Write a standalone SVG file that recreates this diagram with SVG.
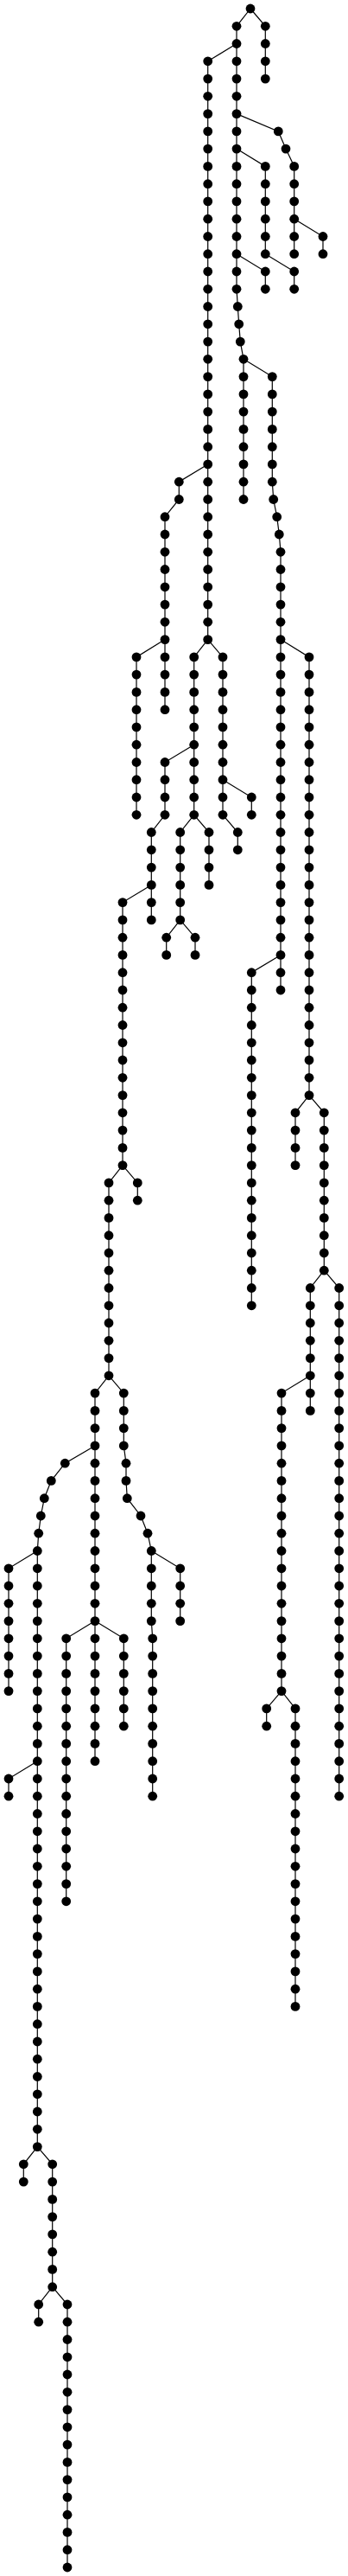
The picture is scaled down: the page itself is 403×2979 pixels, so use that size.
<svg xmlns="http://www.w3.org/2000/svg" width="403" height="2979" viewBox="0 0 403 2979">
<style>
rect.bg{fill:#fff}
circle{fill:#000}
#edges path{fill:none;stroke:#000;stroke-width:1.2}
</style>
<rect class="bg" x="0" y="0" width="403" height="2979"/>
<g id="edges">
<path d="M290,10 L274,30.3 V334.3 L275.3,354.5 L276.7,374.8 L278.3,395.1 L282,415.3 V577.5"/>
<path d="M290,10 L307.3,30.3 V91.1"/>
<path d="M274,50.5 L240.7,70.8 V739.6"/>
<path d="M274,131.6 L322.3,151.9 L331,172.1 L340.7,192.4 V293.7"/>
<path d="M340.7,253.2 L374,273.5 V293.7"/>
<path d="M274,172.1 L307.3,192.4 V293.7"/>
<path d="M307.3,293.7 L340.7,314 V334.3"/>
<path d="M274,293.7 L307.3,314 V334.3"/>
<path d="M282,415.3 L315.3,435.6 V557.2 L316.7,577.5 L320.7,597.7 L323.3,618 L325,638.3 V1145"/>
<path d="M325,739.6 L358,759.9 V1266.6"/>
<path d="M358,1266.6 L342,1286.8 V1347.6"/>
<path d="M358,1266.6 L375.3,1286.8 V1469.2"/>
<path d="M375.3,1469.2 L359.3,1489.5 V1631.4"/>
<path d="M375.3,1469.2 L392.7,1489.5 V2077.2"/>
<path d="M359.3,1590.8 L326,1611.1 V1955.6"/>
<path d="M326,1955.6 L308.7,1975.9 V1996.2"/>
<path d="M326,1955.6 L342,1975.9 V2320.4"/>
<path d="M325,1104.4 L291.3,1124.7 V1509.8"/>
<path d="M240.7,536.9 L207.3,557.2 V577.5 L191,597.7 V820.7"/>
<path d="M191,739.6 L158,759.9 V942.3"/>
<path d="M240.7,739.6 L224.7,759.9 V942.3"/>
<path d="M224.7,861.2 L191,881.5 V942.3 L175.3,962.5 V1063.9"/>
<path d="M175.3,1023.4 L142,1043.6 V1347.6"/>
<path d="M142,1347.6 L159.3,1367.9 V1388.2"/>
<path d="M142,1347.6 L126,1367.9 V1590.8"/>
<path d="M126,1590.8 L143.3,1611.1 V1671.9 L146,1692.2 V1712.4 L147.3,1732.7 L163,1753 L171,1773.2 L175.3,1793.5 V1874.6 L176.7,1894.8 V2077.2"/>
<path d="M175.3,1793.5 L208.7,1813.8 V1874.6"/>
<path d="M126,1590.8 L110,1611.1 V2036.7"/>
<path d="M110,1874.6 L76.7,1894.8 V2198.8"/>
<path d="M110,1874.6 L143.3,1894.8 V1996.2"/>
<path d="M110,1671.9 L75.3,1692.2 L59.3,1712.4 L51.3,1732.7 L47.3,1753 L44.7,1773.2 L43.3,1793.5 V2482.6"/>
<path d="M43.3,1793.5 L10,1813.8 V1955.6"/>
<path d="M43.3,2036.7 L10,2057 V2077.2"/>
<path d="M43.3,2482.6 L27.3,2502.8 V2523.1"/>
<path d="M43.3,2482.6 L60.7,2502.8 V2644.7"/>
<path d="M60.7,2644.7 L44.7,2665 V2685.2"/>
<path d="M60.7,2644.7 L78,2665 V2969"/>
<path d="M224.7,942.3 L208.7,962.5 V1063.9"/>
<path d="M208.7,1063.9 L192.7,1084.2 V1104.4"/>
<path d="M208.7,1063.9 L226,1084.2 V1104.4"/>
<path d="M224.7,942.3 L242,962.5 V1023.4"/>
<path d="M240.7,739.6 L258,759.9 V942.3"/>
<path d="M258,901.7 L291.3,922 V942.3"/>
<path d="M258,942.3 L275.3,962.5 V982.8"/>
</g>
<g id="a0"><circle cx="290" cy="10" r="5.4"/></g>
<g id="b1"><circle cx="274" cy="30.3" r="5.4"/></g>
<g id="b2"><circle cx="274" cy="50.5" r="5.4"/></g>
<g id="b3"><circle cx="274" cy="70.8" r="5.4"/></g>
<g id="b4"><circle cx="274" cy="91.1" r="5.4"/></g>
<g id="b5"><circle cx="274" cy="111.3" r="5.4"/></g>
<g id="b6"><circle cx="274" cy="131.6" r="5.4"/></g>
<g id="b7"><circle cx="274" cy="151.9" r="5.4"/></g>
<g id="b8"><circle cx="274" cy="172.1" r="5.4"/></g>
<g id="b9"><circle cx="274" cy="192.4" r="5.4"/></g>
<g id="b10"><circle cx="274" cy="212.7" r="5.4"/></g>
<g id="b11"><circle cx="274" cy="232.9" r="5.4"/></g>
<g id="b12"><circle cx="274" cy="253.2" r="5.4"/></g>
<g id="b13"><circle cx="274" cy="273.5" r="5.4"/></g>
<g id="b14"><circle cx="274" cy="293.7" r="5.4"/></g>
<g id="b15"><circle cx="274" cy="314" r="5.4"/></g>
<g id="b16"><circle cx="274" cy="334.3" r="5.4"/></g>
<g id="b17"><circle cx="275.3" cy="354.5" r="5.4"/></g>
<g id="b18"><circle cx="276.7" cy="374.8" r="5.4"/></g>
<g id="b19"><circle cx="278.3" cy="395.1" r="5.4"/></g>
<g id="b20"><circle cx="282" cy="415.3" r="5.4"/></g>
<g id="b21"><circle cx="282" cy="435.6" r="5.4"/></g>
<g id="b22"><circle cx="282" cy="455.9" r="5.4"/></g>
<g id="b23"><circle cx="282" cy="476.1" r="5.4"/></g>
<g id="b24"><circle cx="282" cy="496.4" r="5.4"/></g>
<g id="b25"><circle cx="282" cy="516.7" r="5.4"/></g>
<g id="b26"><circle cx="282" cy="536.9" r="5.4"/></g>
<g id="b27"><circle cx="282" cy="557.2" r="5.4"/></g>
<g id="b28"><circle cx="282" cy="577.5" r="5.4"/></g>
<g id="c1"><circle cx="307.3" cy="30.3" r="5.4"/></g>
<g id="c2"><circle cx="307.3" cy="50.5" r="5.4"/></g>
<g id="c3"><circle cx="307.3" cy="70.8" r="5.4"/></g>
<g id="c4"><circle cx="307.3" cy="91.1" r="5.4"/></g>
<g id="d3"><circle cx="240.7" cy="70.8" r="5.4"/></g>
<g id="d4"><circle cx="240.7" cy="91.1" r="5.4"/></g>
<g id="d5"><circle cx="240.7" cy="111.3" r="5.4"/></g>
<g id="d6"><circle cx="240.7" cy="131.6" r="5.4"/></g>
<g id="d7"><circle cx="240.7" cy="151.9" r="5.4"/></g>
<g id="d8"><circle cx="240.7" cy="172.1" r="5.4"/></g>
<g id="d9"><circle cx="240.7" cy="192.4" r="5.4"/></g>
<g id="d10"><circle cx="240.7" cy="212.7" r="5.4"/></g>
<g id="d11"><circle cx="240.7" cy="232.9" r="5.4"/></g>
<g id="d12"><circle cx="240.7" cy="253.2" r="5.4"/></g>
<g id="d13"><circle cx="240.7" cy="273.5" r="5.4"/></g>
<g id="d14"><circle cx="240.7" cy="293.7" r="5.4"/></g>
<g id="d15"><circle cx="240.7" cy="314" r="5.4"/></g>
<g id="d16"><circle cx="240.7" cy="334.3" r="5.4"/></g>
<g id="d17"><circle cx="240.7" cy="354.5" r="5.4"/></g>
<g id="d18"><circle cx="240.7" cy="374.8" r="5.4"/></g>
<g id="d19"><circle cx="240.7" cy="395.1" r="5.4"/></g>
<g id="d20"><circle cx="240.7" cy="415.3" r="5.4"/></g>
<g id="d21"><circle cx="240.7" cy="435.6" r="5.4"/></g>
<g id="d22"><circle cx="240.7" cy="455.9" r="5.4"/></g>
<g id="d23"><circle cx="240.7" cy="476.1" r="5.4"/></g>
<g id="d24"><circle cx="240.7" cy="496.4" r="5.4"/></g>
<g id="d25"><circle cx="240.7" cy="516.7" r="5.4"/></g>
<g id="d26"><circle cx="240.7" cy="536.9" r="5.4"/></g>
<g id="d27"><circle cx="240.7" cy="557.2" r="5.4"/></g>
<g id="d28"><circle cx="240.7" cy="577.5" r="5.4"/></g>
<g id="d29"><circle cx="240.7" cy="597.7" r="5.4"/></g>
<g id="d30"><circle cx="240.7" cy="618" r="5.4"/></g>
<g id="d31"><circle cx="240.7" cy="638.3" r="5.4"/></g>
<g id="d32"><circle cx="240.7" cy="658.5" r="5.4"/></g>
<g id="d33"><circle cx="240.7" cy="678.8" r="5.4"/></g>
<g id="d34"><circle cx="240.7" cy="699.1" r="5.4"/></g>
<g id="d35"><circle cx="240.7" cy="719.3" r="5.4"/></g>
<g id="d36"><circle cx="240.7" cy="739.6" r="5.4"/></g>
<g id="e7"><circle cx="322.3" cy="151.9" r="5.4"/></g>
<g id="e8"><circle cx="331" cy="172.1" r="5.4"/></g>
<g id="e9"><circle cx="340.7" cy="192.4" r="5.4"/></g>
<g id="e10"><circle cx="340.7" cy="212.7" r="5.4"/></g>
<g id="e11"><circle cx="340.7" cy="232.9" r="5.4"/></g>
<g id="e12"><circle cx="340.7" cy="253.2" r="5.4"/></g>
<g id="e13"><circle cx="340.7" cy="273.5" r="5.4"/></g>
<g id="e14"><circle cx="340.7" cy="293.7" r="5.4"/></g>
<g id="f13"><circle cx="374" cy="273.5" r="5.4"/></g>
<g id="f14"><circle cx="374" cy="293.7" r="5.4"/></g>
<g id="g9"><circle cx="307.3" cy="192.4" r="5.4"/></g>
<g id="g10"><circle cx="307.3" cy="212.7" r="5.4"/></g>
<g id="g11"><circle cx="307.3" cy="232.9" r="5.4"/></g>
<g id="g12"><circle cx="307.3" cy="253.2" r="5.4"/></g>
<g id="g13"><circle cx="307.3" cy="273.5" r="5.4"/></g>
<g id="g14"><circle cx="307.3" cy="293.7" r="5.4"/></g>
<g id="h15"><circle cx="340.7" cy="314" r="5.4"/></g>
<g id="h16"><circle cx="340.7" cy="334.3" r="5.4"/></g>
<g id="i15"><circle cx="307.3" cy="314" r="5.4"/></g>
<g id="i16"><circle cx="307.3" cy="334.3" r="5.4"/></g>
<g id="j21"><circle cx="315.3" cy="435.6" r="5.4"/></g>
<g id="j22"><circle cx="315.3" cy="455.9" r="5.4"/></g>
<g id="j23"><circle cx="315.3" cy="476.1" r="5.4"/></g>
<g id="j24"><circle cx="315.3" cy="496.4" r="5.4"/></g>
<g id="j25"><circle cx="315.3" cy="516.7" r="5.4"/></g>
<g id="j26"><circle cx="315.3" cy="536.9" r="5.4"/></g>
<g id="j27"><circle cx="315.3" cy="557.2" r="5.4"/></g>
<g id="j28"><circle cx="316.7" cy="577.5" r="5.4"/></g>
<g id="j29"><circle cx="320.7" cy="597.7" r="5.4"/></g>
<g id="j30"><circle cx="323.3" cy="618" r="5.4"/></g>
<g id="j31"><circle cx="325" cy="638.3" r="5.4"/></g>
<g id="j32"><circle cx="325" cy="658.5" r="5.4"/></g>
<g id="j33"><circle cx="325" cy="678.8" r="5.4"/></g>
<g id="j34"><circle cx="325" cy="699.1" r="5.4"/></g>
<g id="j35"><circle cx="325" cy="719.3" r="5.4"/></g>
<g id="j36"><circle cx="325" cy="739.6" r="5.4"/></g>
<g id="j37"><circle cx="325" cy="759.9" r="5.4"/></g>
<g id="j38"><circle cx="325" cy="780.1" r="5.4"/></g>
<g id="j39"><circle cx="325" cy="800.4" r="5.4"/></g>
<g id="j40"><circle cx="325" cy="820.7" r="5.4"/></g>
<g id="j41"><circle cx="325" cy="840.9" r="5.4"/></g>
<g id="j42"><circle cx="325" cy="861.2" r="5.4"/></g>
<g id="j43"><circle cx="325" cy="881.5" r="5.4"/></g>
<g id="j44"><circle cx="325" cy="901.7" r="5.4"/></g>
<g id="j45"><circle cx="325" cy="922" r="5.4"/></g>
<g id="j46"><circle cx="325" cy="942.3" r="5.4"/></g>
<g id="j47"><circle cx="325" cy="962.5" r="5.4"/></g>
<g id="j48"><circle cx="325" cy="982.8" r="5.4"/></g>
<g id="j49"><circle cx="325" cy="1003.1" r="5.4"/></g>
<g id="j50"><circle cx="325" cy="1023.4" r="5.4"/></g>
<g id="j51"><circle cx="325" cy="1043.6" r="5.4"/></g>
<g id="j52"><circle cx="325" cy="1063.9" r="5.4"/></g>
<g id="j53"><circle cx="325" cy="1084.2" r="5.4"/></g>
<g id="j54"><circle cx="325" cy="1104.4" r="5.4"/></g>
<g id="j55"><circle cx="325" cy="1124.7" r="5.4"/></g>
<g id="j56"><circle cx="325" cy="1145" r="5.4"/></g>
<g id="k37"><circle cx="358" cy="759.9" r="5.4"/></g>
<g id="k38"><circle cx="358" cy="780.1" r="5.4"/></g>
<g id="k39"><circle cx="358" cy="800.4" r="5.4"/></g>
<g id="k40"><circle cx="358" cy="820.7" r="5.4"/></g>
<g id="k41"><circle cx="358" cy="840.9" r="5.4"/></g>
<g id="k42"><circle cx="358" cy="861.2" r="5.4"/></g>
<g id="k43"><circle cx="358" cy="881.5" r="5.4"/></g>
<g id="k44"><circle cx="358" cy="901.7" r="5.4"/></g>
<g id="k45"><circle cx="358" cy="922" r="5.4"/></g>
<g id="k46"><circle cx="358" cy="942.3" r="5.4"/></g>
<g id="k47"><circle cx="358" cy="962.5" r="5.4"/></g>
<g id="k48"><circle cx="358" cy="982.8" r="5.4"/></g>
<g id="k49"><circle cx="358" cy="1003.1" r="5.4"/></g>
<g id="k50"><circle cx="358" cy="1023.4" r="5.4"/></g>
<g id="k51"><circle cx="358" cy="1043.6" r="5.4"/></g>
<g id="k52"><circle cx="358" cy="1063.9" r="5.4"/></g>
<g id="k53"><circle cx="358" cy="1084.2" r="5.4"/></g>
<g id="k54"><circle cx="358" cy="1104.4" r="5.4"/></g>
<g id="k55"><circle cx="358" cy="1124.7" r="5.4"/></g>
<g id="k56"><circle cx="358" cy="1145" r="5.4"/></g>
<g id="k57"><circle cx="358" cy="1165.2" r="5.4"/></g>
<g id="k58"><circle cx="358" cy="1185.5" r="5.4"/></g>
<g id="k59"><circle cx="358" cy="1205.8" r="5.4"/></g>
<g id="k60"><circle cx="358" cy="1226" r="5.4"/></g>
<g id="k61"><circle cx="358" cy="1246.3" r="5.4"/></g>
<g id="k62"><circle cx="358" cy="1266.6" r="5.4"/></g>
<g id="l63"><circle cx="342" cy="1286.8" r="5.4"/></g>
<g id="l64"><circle cx="342" cy="1307.1" r="5.4"/></g>
<g id="l65"><circle cx="342" cy="1327.4" r="5.4"/></g>
<g id="l66"><circle cx="342" cy="1347.6" r="5.4"/></g>
<g id="m63"><circle cx="375.3" cy="1286.8" r="5.4"/></g>
<g id="m64"><circle cx="375.3" cy="1307.1" r="5.4"/></g>
<g id="m65"><circle cx="375.3" cy="1327.4" r="5.4"/></g>
<g id="m66"><circle cx="375.3" cy="1347.6" r="5.4"/></g>
<g id="m67"><circle cx="375.3" cy="1367.9" r="5.4"/></g>
<g id="m68"><circle cx="375.3" cy="1388.2" r="5.4"/></g>
<g id="m69"><circle cx="375.3" cy="1408.4" r="5.4"/></g>
<g id="m70"><circle cx="375.3" cy="1428.7" r="5.4"/></g>
<g id="m71"><circle cx="375.3" cy="1449" r="5.4"/></g>
<g id="m72"><circle cx="375.3" cy="1469.2" r="5.4"/></g>
<g id="n73"><circle cx="359.3" cy="1489.5" r="5.4"/></g>
<g id="n74"><circle cx="359.3" cy="1509.8" r="5.4"/></g>
<g id="n75"><circle cx="359.3" cy="1530" r="5.4"/></g>
<g id="n76"><circle cx="359.3" cy="1550.3" r="5.4"/></g>
<g id="n77"><circle cx="359.3" cy="1570.6" r="5.4"/></g>
<g id="n78"><circle cx="359.3" cy="1590.8" r="5.4"/></g>
<g id="n79"><circle cx="359.3" cy="1611.1" r="5.4"/></g>
<g id="n80"><circle cx="359.3" cy="1631.4" r="5.4"/></g>
<g id="o73"><circle cx="392.7" cy="1489.5" r="5.4"/></g>
<g id="o74"><circle cx="392.7" cy="1509.8" r="5.4"/></g>
<g id="o75"><circle cx="392.7" cy="1530" r="5.4"/></g>
<g id="o76"><circle cx="392.7" cy="1550.3" r="5.4"/></g>
<g id="o77"><circle cx="392.7" cy="1570.6" r="5.4"/></g>
<g id="o78"><circle cx="392.7" cy="1590.8" r="5.4"/></g>
<g id="o79"><circle cx="392.7" cy="1611.1" r="5.4"/></g>
<g id="o80"><circle cx="392.7" cy="1631.4" r="5.4"/></g>
<g id="o81"><circle cx="392.7" cy="1651.6" r="5.4"/></g>
<g id="o82"><circle cx="392.7" cy="1671.9" r="5.4"/></g>
<g id="o83"><circle cx="392.7" cy="1692.2" r="5.4"/></g>
<g id="o84"><circle cx="392.7" cy="1712.4" r="5.4"/></g>
<g id="o85"><circle cx="392.7" cy="1732.7" r="5.4"/></g>
<g id="o86"><circle cx="392.7" cy="1753" r="5.4"/></g>
<g id="o87"><circle cx="392.7" cy="1773.2" r="5.4"/></g>
<g id="o88"><circle cx="392.7" cy="1793.5" r="5.4"/></g>
<g id="o89"><circle cx="392.7" cy="1813.8" r="5.4"/></g>
<g id="o90"><circle cx="392.7" cy="1834" r="5.4"/></g>
<g id="o91"><circle cx="392.7" cy="1854.3" r="5.4"/></g>
<g id="o92"><circle cx="392.7" cy="1874.6" r="5.4"/></g>
<g id="o93"><circle cx="392.7" cy="1894.8" r="5.4"/></g>
<g id="o94"><circle cx="392.7" cy="1915.1" r="5.4"/></g>
<g id="o95"><circle cx="392.7" cy="1935.4" r="5.4"/></g>
<g id="o96"><circle cx="392.7" cy="1955.6" r="5.4"/></g>
<g id="o97"><circle cx="392.7" cy="1975.9" r="5.4"/></g>
<g id="o98"><circle cx="392.7" cy="1996.2" r="5.4"/></g>
<g id="o99"><circle cx="392.7" cy="2016.4" r="5.4"/></g>
<g id="o100"><circle cx="392.7" cy="2036.7" r="5.4"/></g>
<g id="o101"><circle cx="392.7" cy="2057" r="5.4"/></g>
<g id="o102"><circle cx="392.7" cy="2077.2" r="5.4"/></g>
<g id="p79"><circle cx="326" cy="1611.1" r="5.4"/></g>
<g id="p80"><circle cx="326" cy="1631.4" r="5.4"/></g>
<g id="p81"><circle cx="326" cy="1651.6" r="5.4"/></g>
<g id="p82"><circle cx="326" cy="1671.9" r="5.4"/></g>
<g id="p83"><circle cx="326" cy="1692.2" r="5.4"/></g>
<g id="p84"><circle cx="326" cy="1712.4" r="5.4"/></g>
<g id="p85"><circle cx="326" cy="1732.7" r="5.4"/></g>
<g id="p86"><circle cx="326" cy="1753" r="5.4"/></g>
<g id="p87"><circle cx="326" cy="1773.2" r="5.4"/></g>
<g id="p88"><circle cx="326" cy="1793.5" r="5.4"/></g>
<g id="p89"><circle cx="326" cy="1813.8" r="5.4"/></g>
<g id="p90"><circle cx="326" cy="1834" r="5.4"/></g>
<g id="p91"><circle cx="326" cy="1854.3" r="5.4"/></g>
<g id="p92"><circle cx="326" cy="1874.6" r="5.4"/></g>
<g id="p93"><circle cx="326" cy="1894.8" r="5.4"/></g>
<g id="p94"><circle cx="326" cy="1915.1" r="5.4"/></g>
<g id="p95"><circle cx="326" cy="1935.4" r="5.4"/></g>
<g id="p96"><circle cx="326" cy="1955.6" r="5.4"/></g>
<g id="q97"><circle cx="308.7" cy="1975.9" r="5.4"/></g>
<g id="q98"><circle cx="308.7" cy="1996.2" r="5.4"/></g>
<g id="r97"><circle cx="342" cy="1975.9" r="5.4"/></g>
<g id="r98"><circle cx="342" cy="1996.2" r="5.4"/></g>
<g id="r99"><circle cx="342" cy="2016.4" r="5.4"/></g>
<g id="r100"><circle cx="342" cy="2036.7" r="5.4"/></g>
<g id="r101"><circle cx="342" cy="2057" r="5.4"/></g>
<g id="r102"><circle cx="342" cy="2077.2" r="5.4"/></g>
<g id="r103"><circle cx="342" cy="2097.5" r="5.4"/></g>
<g id="r104"><circle cx="342" cy="2117.8" r="5.4"/></g>
<g id="r105"><circle cx="342" cy="2138" r="5.4"/></g>
<g id="r106"><circle cx="342" cy="2158.3" r="5.4"/></g>
<g id="r107"><circle cx="342" cy="2178.6" r="5.4"/></g>
<g id="r108"><circle cx="342" cy="2198.8" r="5.4"/></g>
<g id="r109"><circle cx="342" cy="2219.1" r="5.4"/></g>
<g id="r110"><circle cx="342" cy="2239.4" r="5.4"/></g>
<g id="r111"><circle cx="342" cy="2259.6" r="5.4"/></g>
<g id="r112"><circle cx="342" cy="2279.9" r="5.4"/></g>
<g id="r113"><circle cx="342" cy="2300.2" r="5.4"/></g>
<g id="r114"><circle cx="342" cy="2320.4" r="5.4"/></g>
<g id="s55"><circle cx="291.3" cy="1124.7" r="5.4"/></g>
<g id="s56"><circle cx="291.3" cy="1145" r="5.4"/></g>
<g id="s57"><circle cx="291.3" cy="1165.2" r="5.4"/></g>
<g id="s58"><circle cx="291.3" cy="1185.5" r="5.4"/></g>
<g id="s59"><circle cx="291.3" cy="1205.8" r="5.4"/></g>
<g id="s60"><circle cx="291.3" cy="1226" r="5.4"/></g>
<g id="s61"><circle cx="291.3" cy="1246.3" r="5.4"/></g>
<g id="s62"><circle cx="291.3" cy="1266.6" r="5.4"/></g>
<g id="s63"><circle cx="291.3" cy="1286.8" r="5.4"/></g>
<g id="s64"><circle cx="291.3" cy="1307.1" r="5.4"/></g>
<g id="s65"><circle cx="291.3" cy="1327.4" r="5.4"/></g>
<g id="s66"><circle cx="291.3" cy="1347.6" r="5.4"/></g>
<g id="s67"><circle cx="291.3" cy="1367.9" r="5.4"/></g>
<g id="s68"><circle cx="291.3" cy="1388.2" r="5.4"/></g>
<g id="s69"><circle cx="291.3" cy="1408.4" r="5.4"/></g>
<g id="s70"><circle cx="291.3" cy="1428.7" r="5.4"/></g>
<g id="s71"><circle cx="291.3" cy="1449" r="5.4"/></g>
<g id="s72"><circle cx="291.3" cy="1469.2" r="5.4"/></g>
<g id="s73"><circle cx="291.3" cy="1489.5" r="5.4"/></g>
<g id="s74"><circle cx="291.3" cy="1509.8" r="5.4"/></g>
<g id="t27"><circle cx="207.3" cy="557.2" r="5.4"/></g>
<g id="t28"><circle cx="207.3" cy="577.5" r="5.4"/></g>
<g id="t29"><circle cx="191" cy="597.7" r="5.4"/></g>
<g id="t30"><circle cx="191" cy="618" r="5.4"/></g>
<g id="t31"><circle cx="191" cy="638.3" r="5.4"/></g>
<g id="t32"><circle cx="191" cy="658.5" r="5.4"/></g>
<g id="t33"><circle cx="191" cy="678.8" r="5.4"/></g>
<g id="t34"><circle cx="191" cy="699.1" r="5.4"/></g>
<g id="t35"><circle cx="191" cy="719.3" r="5.4"/></g>
<g id="t36"><circle cx="191" cy="739.6" r="5.4"/></g>
<g id="t37"><circle cx="191" cy="759.9" r="5.4"/></g>
<g id="t38"><circle cx="191" cy="780.1" r="5.4"/></g>
<g id="t39"><circle cx="191" cy="800.4" r="5.4"/></g>
<g id="t40"><circle cx="191" cy="820.7" r="5.4"/></g>
<g id="u37"><circle cx="158" cy="759.9" r="5.4"/></g>
<g id="u38"><circle cx="158" cy="780.1" r="5.4"/></g>
<g id="u39"><circle cx="158" cy="800.4" r="5.4"/></g>
<g id="u40"><circle cx="158" cy="820.7" r="5.4"/></g>
<g id="u41"><circle cx="158" cy="840.9" r="5.4"/></g>
<g id="u42"><circle cx="158" cy="861.2" r="5.4"/></g>
<g id="u43"><circle cx="158" cy="881.5" r="5.4"/></g>
<g id="u44"><circle cx="158" cy="901.7" r="5.4"/></g>
<g id="u45"><circle cx="158" cy="922" r="5.4"/></g>
<g id="u46"><circle cx="158" cy="942.3" r="5.4"/></g>
<g id="v37"><circle cx="224.7" cy="759.9" r="5.4"/></g>
<g id="v38"><circle cx="224.7" cy="780.1" r="5.4"/></g>
<g id="v39"><circle cx="224.7" cy="800.4" r="5.4"/></g>
<g id="v40"><circle cx="224.7" cy="820.7" r="5.4"/></g>
<g id="v41"><circle cx="224.7" cy="840.9" r="5.4"/></g>
<g id="v42"><circle cx="224.7" cy="861.2" r="5.4"/></g>
<g id="v43"><circle cx="224.7" cy="881.5" r="5.4"/></g>
<g id="v44"><circle cx="224.7" cy="901.7" r="5.4"/></g>
<g id="v45"><circle cx="224.7" cy="922" r="5.4"/></g>
<g id="v46"><circle cx="224.7" cy="942.3" r="5.4"/></g>
<g id="w43"><circle cx="191" cy="881.5" r="5.4"/></g>
<g id="w44"><circle cx="191" cy="901.7" r="5.4"/></g>
<g id="w45"><circle cx="191" cy="922" r="5.4"/></g>
<g id="w46"><circle cx="191" cy="942.3" r="5.4"/></g>
<g id="w47"><circle cx="175.3" cy="962.5" r="5.4"/></g>
<g id="w48"><circle cx="175.3" cy="982.8" r="5.4"/></g>
<g id="w49"><circle cx="175.3" cy="1003.1" r="5.4"/></g>
<g id="w50"><circle cx="175.3" cy="1023.4" r="5.4"/></g>
<g id="w51"><circle cx="175.3" cy="1043.6" r="5.4"/></g>
<g id="w52"><circle cx="175.3" cy="1063.9" r="5.4"/></g>
<g id="x51"><circle cx="142" cy="1043.6" r="5.4"/></g>
<g id="x52"><circle cx="142" cy="1063.9" r="5.4"/></g>
<g id="x53"><circle cx="142" cy="1084.2" r="5.4"/></g>
<g id="x54"><circle cx="142" cy="1104.4" r="5.4"/></g>
<g id="x55"><circle cx="142" cy="1124.7" r="5.4"/></g>
<g id="x56"><circle cx="142" cy="1145" r="5.4"/></g>
<g id="x57"><circle cx="142" cy="1165.2" r="5.4"/></g>
<g id="x58"><circle cx="142" cy="1185.5" r="5.4"/></g>
<g id="x59"><circle cx="142" cy="1205.8" r="5.4"/></g>
<g id="x60"><circle cx="142" cy="1226" r="5.4"/></g>
<g id="x61"><circle cx="142" cy="1246.3" r="5.4"/></g>
<g id="x62"><circle cx="142" cy="1266.6" r="5.4"/></g>
<g id="x63"><circle cx="142" cy="1286.8" r="5.4"/></g>
<g id="x64"><circle cx="142" cy="1307.1" r="5.4"/></g>
<g id="x65"><circle cx="142" cy="1327.4" r="5.4"/></g>
<g id="x66"><circle cx="142" cy="1347.6" r="5.4"/></g>
<g id="y67"><circle cx="159.3" cy="1367.9" r="5.4"/></g>
<g id="y68"><circle cx="159.3" cy="1388.2" r="5.4"/></g>
<g id="z67"><circle cx="126" cy="1367.9" r="5.4"/></g>
<g id="z68"><circle cx="126" cy="1388.2" r="5.4"/></g>
<g id="z69"><circle cx="126" cy="1408.4" r="5.4"/></g>
<g id="z70"><circle cx="126" cy="1428.7" r="5.4"/></g>
<g id="z71"><circle cx="126" cy="1449" r="5.4"/></g>
<g id="z72"><circle cx="126" cy="1469.2" r="5.4"/></g>
<g id="z73"><circle cx="126" cy="1489.5" r="5.4"/></g>
<g id="z74"><circle cx="126" cy="1509.8" r="5.4"/></g>
<g id="z75"><circle cx="126" cy="1530" r="5.4"/></g>
<g id="z76"><circle cx="126" cy="1550.3" r="5.4"/></g>
<g id="z77"><circle cx="126" cy="1570.6" r="5.4"/></g>
<g id="z78"><circle cx="126" cy="1590.8" r="5.4"/></g>
<g id="aa79"><circle cx="143.3" cy="1611.1" r="5.4"/></g>
<g id="aa80"><circle cx="143.3" cy="1631.4" r="5.4"/></g>
<g id="aa81"><circle cx="143.3" cy="1651.6" r="5.4"/></g>
<g id="aa82"><circle cx="143.3" cy="1671.9" r="5.4"/></g>
<g id="aa83"><circle cx="146" cy="1692.2" r="5.4"/></g>
<g id="aa84"><circle cx="146" cy="1712.4" r="5.4"/></g>
<g id="aa85"><circle cx="147.3" cy="1732.7" r="5.4"/></g>
<g id="aa86"><circle cx="163" cy="1753" r="5.4"/></g>
<g id="aa87"><circle cx="171" cy="1773.2" r="5.4"/></g>
<g id="aa88"><circle cx="175.3" cy="1793.5" r="5.4"/></g>
<g id="aa89"><circle cx="175.3" cy="1813.8" r="5.4"/></g>
<g id="aa90"><circle cx="175.3" cy="1834" r="5.4"/></g>
<g id="aa91"><circle cx="175.3" cy="1854.3" r="5.4"/></g>
<g id="aa92"><circle cx="175.3" cy="1874.6" r="5.4"/></g>
<g id="aa93"><circle cx="176.7" cy="1894.8" r="5.4"/></g>
<g id="aa94"><circle cx="176.7" cy="1915.1" r="5.4"/></g>
<g id="aa95"><circle cx="176.7" cy="1935.4" r="5.4"/></g>
<g id="aa96"><circle cx="176.7" cy="1955.6" r="5.4"/></g>
<g id="aa97"><circle cx="176.7" cy="1975.9" r="5.4"/></g>
<g id="aa98"><circle cx="176.7" cy="1996.2" r="5.4"/></g>
<g id="aa99"><circle cx="176.7" cy="2016.4" r="5.4"/></g>
<g id="aa100"><circle cx="176.7" cy="2036.7" r="5.4"/></g>
<g id="aa101"><circle cx="176.7" cy="2057" r="5.4"/></g>
<g id="aa102"><circle cx="176.7" cy="2077.2" r="5.4"/></g>
<g id="ab89"><circle cx="208.7" cy="1813.8" r="5.4"/></g>
<g id="ab90"><circle cx="208.7" cy="1834" r="5.4"/></g>
<g id="ab91"><circle cx="208.7" cy="1854.3" r="5.4"/></g>
<g id="ab92"><circle cx="208.7" cy="1874.6" r="5.4"/></g>
<g id="ac79"><circle cx="110" cy="1611.1" r="5.4"/></g>
<g id="ac80"><circle cx="110" cy="1631.4" r="5.4"/></g>
<g id="ac81"><circle cx="110" cy="1651.6" r="5.4"/></g>
<g id="ac82"><circle cx="110" cy="1671.9" r="5.4"/></g>
<g id="ac83"><circle cx="110" cy="1692.2" r="5.4"/></g>
<g id="ac84"><circle cx="110" cy="1712.4" r="5.4"/></g>
<g id="ac85"><circle cx="110" cy="1732.7" r="5.4"/></g>
<g id="ac86"><circle cx="110" cy="1753" r="5.4"/></g>
<g id="ac87"><circle cx="110" cy="1773.2" r="5.4"/></g>
<g id="ac88"><circle cx="110" cy="1793.5" r="5.4"/></g>
<g id="ac89"><circle cx="110" cy="1813.8" r="5.4"/></g>
<g id="ac90"><circle cx="110" cy="1834" r="5.4"/></g>
<g id="ac91"><circle cx="110" cy="1854.3" r="5.4"/></g>
<g id="ac92"><circle cx="110" cy="1874.6" r="5.4"/></g>
<g id="ac93"><circle cx="110" cy="1894.8" r="5.4"/></g>
<g id="ac94"><circle cx="110" cy="1915.1" r="5.4"/></g>
<g id="ac95"><circle cx="110" cy="1935.4" r="5.4"/></g>
<g id="ac96"><circle cx="110" cy="1955.6" r="5.4"/></g>
<g id="ac97"><circle cx="110" cy="1975.9" r="5.4"/></g>
<g id="ac98"><circle cx="110" cy="1996.2" r="5.4"/></g>
<g id="ac99"><circle cx="110" cy="2016.4" r="5.4"/></g>
<g id="ac100"><circle cx="110" cy="2036.7" r="5.4"/></g>
<g id="ad93"><circle cx="76.7" cy="1894.8" r="5.4"/></g>
<g id="ad94"><circle cx="76.7" cy="1915.1" r="5.4"/></g>
<g id="ad95"><circle cx="76.7" cy="1935.4" r="5.4"/></g>
<g id="ad96"><circle cx="76.7" cy="1955.6" r="5.4"/></g>
<g id="ad97"><circle cx="76.7" cy="1975.9" r="5.4"/></g>
<g id="ad98"><circle cx="76.7" cy="1996.2" r="5.4"/></g>
<g id="ad99"><circle cx="76.7" cy="2016.4" r="5.4"/></g>
<g id="ad100"><circle cx="76.7" cy="2036.7" r="5.4"/></g>
<g id="ad101"><circle cx="76.7" cy="2057" r="5.4"/></g>
<g id="ad102"><circle cx="76.7" cy="2077.2" r="5.4"/></g>
<g id="ad103"><circle cx="76.7" cy="2097.5" r="5.4"/></g>
<g id="ad104"><circle cx="76.7" cy="2117.8" r="5.4"/></g>
<g id="ad105"><circle cx="76.7" cy="2138" r="5.4"/></g>
<g id="ad106"><circle cx="76.7" cy="2158.3" r="5.4"/></g>
<g id="ad107"><circle cx="76.7" cy="2178.6" r="5.4"/></g>
<g id="ad108"><circle cx="76.7" cy="2198.8" r="5.4"/></g>
<g id="ae93"><circle cx="143.3" cy="1894.8" r="5.4"/></g>
<g id="ae94"><circle cx="143.3" cy="1915.1" r="5.4"/></g>
<g id="ae95"><circle cx="143.3" cy="1935.4" r="5.4"/></g>
<g id="ae96"><circle cx="143.3" cy="1955.6" r="5.4"/></g>
<g id="ae97"><circle cx="143.3" cy="1975.9" r="5.4"/></g>
<g id="ae98"><circle cx="143.3" cy="1996.2" r="5.4"/></g>
<g id="af83"><circle cx="75.3" cy="1692.2" r="5.4"/></g>
<g id="af84"><circle cx="59.3" cy="1712.4" r="5.4"/></g>
<g id="af85"><circle cx="51.3" cy="1732.7" r="5.4"/></g>
<g id="af86"><circle cx="47.3" cy="1753" r="5.4"/></g>
<g id="af87"><circle cx="44.7" cy="1773.2" r="5.4"/></g>
<g id="af88"><circle cx="43.3" cy="1793.5" r="5.4"/></g>
<g id="af89"><circle cx="43.3" cy="1813.8" r="5.4"/></g>
<g id="af90"><circle cx="43.3" cy="1834" r="5.4"/></g>
<g id="af91"><circle cx="43.3" cy="1854.3" r="5.4"/></g>
<g id="af92"><circle cx="43.3" cy="1874.6" r="5.4"/></g>
<g id="af93"><circle cx="43.3" cy="1894.8" r="5.4"/></g>
<g id="af94"><circle cx="43.3" cy="1915.1" r="5.4"/></g>
<g id="af95"><circle cx="43.3" cy="1935.4" r="5.4"/></g>
<g id="af96"><circle cx="43.3" cy="1955.6" r="5.4"/></g>
<g id="af97"><circle cx="43.3" cy="1975.9" r="5.4"/></g>
<g id="af98"><circle cx="43.3" cy="1996.2" r="5.4"/></g>
<g id="af99"><circle cx="43.3" cy="2016.4" r="5.4"/></g>
<g id="af100"><circle cx="43.3" cy="2036.7" r="5.4"/></g>
<g id="af101"><circle cx="43.3" cy="2057" r="5.4"/></g>
<g id="af102"><circle cx="43.3" cy="2077.2" r="5.4"/></g>
<g id="af103"><circle cx="43.3" cy="2097.5" r="5.4"/></g>
<g id="af104"><circle cx="43.3" cy="2117.8" r="5.4"/></g>
<g id="af105"><circle cx="43.3" cy="2138" r="5.4"/></g>
<g id="af106"><circle cx="43.3" cy="2158.3" r="5.4"/></g>
<g id="af107"><circle cx="43.3" cy="2178.6" r="5.4"/></g>
<g id="af108"><circle cx="43.3" cy="2198.8" r="5.4"/></g>
<g id="af109"><circle cx="43.3" cy="2219.1" r="5.4"/></g>
<g id="af110"><circle cx="43.3" cy="2239.4" r="5.4"/></g>
<g id="af111"><circle cx="43.3" cy="2259.6" r="5.4"/></g>
<g id="af112"><circle cx="43.3" cy="2279.9" r="5.4"/></g>
<g id="af113"><circle cx="43.3" cy="2300.2" r="5.4"/></g>
<g id="af114"><circle cx="43.3" cy="2320.4" r="5.4"/></g>
<g id="af115"><circle cx="43.3" cy="2340.7" r="5.4"/></g>
<g id="af116"><circle cx="43.3" cy="2361" r="5.4"/></g>
<g id="af117"><circle cx="43.3" cy="2381.2" r="5.4"/></g>
<g id="af118"><circle cx="43.3" cy="2401.5" r="5.4"/></g>
<g id="af119"><circle cx="43.3" cy="2421.8" r="5.4"/></g>
<g id="af120"><circle cx="43.3" cy="2442" r="5.4"/></g>
<g id="af121"><circle cx="43.3" cy="2462.3" r="5.4"/></g>
<g id="af122"><circle cx="43.3" cy="2482.6" r="5.4"/></g>
<g id="ag89"><circle cx="10" cy="1813.8" r="5.4"/></g>
<g id="ag90"><circle cx="10" cy="1834" r="5.4"/></g>
<g id="ag91"><circle cx="10" cy="1854.3" r="5.4"/></g>
<g id="ag92"><circle cx="10" cy="1874.6" r="5.4"/></g>
<g id="ag93"><circle cx="10" cy="1894.8" r="5.4"/></g>
<g id="ag94"><circle cx="10" cy="1915.1" r="5.4"/></g>
<g id="ag95"><circle cx="10" cy="1935.4" r="5.4"/></g>
<g id="ag96"><circle cx="10" cy="1955.6" r="5.4"/></g>
<g id="ah101"><circle cx="10" cy="2057" r="5.4"/></g>
<g id="ah102"><circle cx="10" cy="2077.2" r="5.4"/></g>
<g id="ai123"><circle cx="27.3" cy="2502.8" r="5.4"/></g>
<g id="ai124"><circle cx="27.3" cy="2523.1" r="5.4"/></g>
<g id="aj123"><circle cx="60.7" cy="2502.8" r="5.4"/></g>
<g id="aj124"><circle cx="60.7" cy="2523.1" r="5.4"/></g>
<g id="aj125"><circle cx="60.7" cy="2543.4" r="5.4"/></g>
<g id="aj126"><circle cx="60.7" cy="2563.6" r="5.4"/></g>
<g id="aj127"><circle cx="60.7" cy="2583.9" r="5.4"/></g>
<g id="aj128"><circle cx="60.7" cy="2604.2" r="5.4"/></g>
<g id="aj129"><circle cx="60.7" cy="2624.4" r="5.4"/></g>
<g id="aj130"><circle cx="60.7" cy="2644.7" r="5.4"/></g>
<g id="ak131"><circle cx="44.7" cy="2665" r="5.4"/></g>
<g id="ak132"><circle cx="44.7" cy="2685.2" r="5.4"/></g>
<g id="al131"><circle cx="78" cy="2665" r="5.4"/></g>
<g id="al132"><circle cx="78" cy="2685.2" r="5.4"/></g>
<g id="al133"><circle cx="78" cy="2705.5" r="5.4"/></g>
<g id="al134"><circle cx="78" cy="2725.8" r="5.4"/></g>
<g id="al135"><circle cx="78" cy="2746" r="5.4"/></g>
<g id="al136"><circle cx="78" cy="2766.3" r="5.4"/></g>
<g id="al137"><circle cx="78" cy="2786.6" r="5.4"/></g>
<g id="al138"><circle cx="78" cy="2806.8" r="5.4"/></g>
<g id="al139"><circle cx="78" cy="2827.1" r="5.4"/></g>
<g id="al140"><circle cx="78" cy="2847.4" r="5.4"/></g>
<g id="al141"><circle cx="78" cy="2867.6" r="5.4"/></g>
<g id="al142"><circle cx="78" cy="2887.9" r="5.4"/></g>
<g id="al143"><circle cx="78" cy="2908.2" r="5.4"/></g>
<g id="al144"><circle cx="78" cy="2928.4" r="5.4"/></g>
<g id="al145"><circle cx="78" cy="2948.7" r="5.4"/></g>
<g id="al146"><circle cx="78" cy="2969" r="5.4"/></g>
<g id="am47"><circle cx="208.7" cy="962.5" r="5.4"/></g>
<g id="am48"><circle cx="208.7" cy="982.8" r="5.4"/></g>
<g id="am49"><circle cx="208.7" cy="1003.1" r="5.4"/></g>
<g id="am50"><circle cx="208.7" cy="1023.4" r="5.4"/></g>
<g id="am51"><circle cx="208.7" cy="1043.6" r="5.4"/></g>
<g id="am52"><circle cx="208.7" cy="1063.9" r="5.4"/></g>
<g id="an53"><circle cx="192.7" cy="1084.2" r="5.4"/></g>
<g id="an54"><circle cx="192.7" cy="1104.4" r="5.4"/></g>
<g id="ao53"><circle cx="226" cy="1084.2" r="5.4"/></g>
<g id="ao54"><circle cx="226" cy="1104.4" r="5.4"/></g>
<g id="ap47"><circle cx="242" cy="962.5" r="5.4"/></g>
<g id="ap48"><circle cx="242" cy="982.8" r="5.4"/></g>
<g id="ap49"><circle cx="242" cy="1003.1" r="5.4"/></g>
<g id="ap50"><circle cx="242" cy="1023.4" r="5.4"/></g>
<g id="aq37"><circle cx="258" cy="759.9" r="5.4"/></g>
<g id="aq38"><circle cx="258" cy="780.1" r="5.4"/></g>
<g id="aq39"><circle cx="258" cy="800.4" r="5.4"/></g>
<g id="aq40"><circle cx="258" cy="820.7" r="5.4"/></g>
<g id="aq41"><circle cx="258" cy="840.9" r="5.4"/></g>
<g id="aq42"><circle cx="258" cy="861.2" r="5.4"/></g>
<g id="aq43"><circle cx="258" cy="881.5" r="5.4"/></g>
<g id="aq44"><circle cx="258" cy="901.7" r="5.4"/></g>
<g id="aq45"><circle cx="258" cy="922" r="5.4"/></g>
<g id="aq46"><circle cx="258" cy="942.3" r="5.4"/></g>
<g id="ar45"><circle cx="291.3" cy="922" r="5.4"/></g>
<g id="ar46"><circle cx="291.3" cy="942.3" r="5.4"/></g>
<g id="as47"><circle cx="275.3" cy="962.5" r="5.4"/></g>
<g id="as48"><circle cx="275.3" cy="982.8" r="5.4"/></g>
</svg>
